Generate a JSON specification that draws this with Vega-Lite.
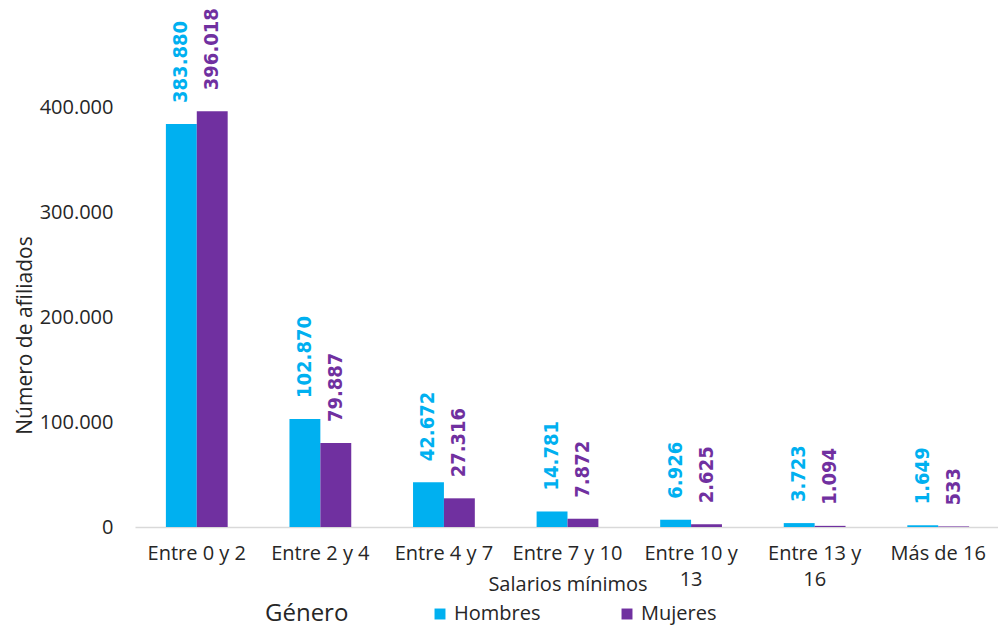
{
  "$schema": "https://vega.github.io/schema/vega-lite/v6.json",
  "width": 865,
  "height": 525,
  "autosize": {"type": "none"},
  "padding": {"left": 135, "top": 2, "right": 0, "bottom": 101},
  "background": "white",
  "config": {
    "locale": {"number": {"decimal": ",", "thousands": ".", "grouping": [3], "currency": ["$", ""]}},
    "view": {"stroke": null},
    "font": "Open Sans"
  },
  "data": {
    "values": [
      {"rango": "Entre 0 y 2", "genero": "Hombres", "valor": 383880},
      {"rango": "Entre 0 y 2", "genero": "Mujeres", "valor": 396018},
      {"rango": "Entre 2 y 4", "genero": "Hombres", "valor": 102870},
      {"rango": "Entre 2 y 4", "genero": "Mujeres", "valor": 79887},
      {"rango": "Entre 4 y 7", "genero": "Hombres", "valor": 42672},
      {"rango": "Entre 4 y 7", "genero": "Mujeres", "valor": 27316},
      {"rango": "Entre 7 y 10", "genero": "Hombres", "valor": 14781},
      {"rango": "Entre 7 y 10", "genero": "Mujeres", "valor": 7872},
      {"rango": "Entre 10 y 13", "genero": "Hombres", "valor": 6926},
      {"rango": "Entre 10 y 13", "genero": "Mujeres", "valor": 2625},
      {"rango": "Entre 13 y 16", "genero": "Hombres", "valor": 3723},
      {"rango": "Entre 13 y 16", "genero": "Mujeres", "valor": 1094},
      {"rango": "Más de 16", "genero": "Hombres", "valor": 1649},
      {"rango": "Más de 16", "genero": "Mujeres", "valor": 533}
    ]
  },
  "encoding": {
    "x": {
      "field": "rango",
      "type": "nominal",
      "sort": null,
      "scale": {"paddingInner": 0.5, "paddingOuter": 0.25},
      "axis": {
        "title": "Salarios mínimos",
        "titleFont": "Open Sans",
        "titleFontSize": 20,
        "titleFontWeight": "normal",
        "titleColor": "#262626",
        "titleBaseline": "middle",
        "titleY": 57,
        "labelAngle": 0,
        "labelFont": "Open Sans",
        "labelFontSize": 20,
        "labelColor": "#262626",
        "labelPadding": 16,
        "labelLineHeight": 26,
        "labelExpr": "length(datum.label) > 12 ? [substring(datum.label, 0, 10), substring(datum.label, 11)] : datum.label",
        "ticks": false,
        "domain": true,
        "domainColor": "#D9D9D9",
        "domainWidth": 1.5
      }
    },
    "xOffset": {"field": "genero", "type": "nominal", "sort": ["Hombres", "Mujeres"]},
    "y": {
      "field": "valor",
      "type": "quantitative",
      "scale": {"domain": [0, 500000], "nice": false},
      "axis": {
        "values": [0, 100000, 200000, 300000, 400000],
        "format": ",.0f",
        "title": "Número de afiliados",
        "titleFont": "Open Sans",
        "titleFontSize": 21,
        "titleFontWeight": "normal",
        "titleColor": "#262626",
        "titleBaseline": "middle",
        "titleX": -110,
        "titleY": 333,
        "labelFont": "Open Sans",
        "labelFontSize": 20,
        "labelColor": "#262626",
        "labelPadding": 22,
        "domain": false,
        "ticks": false,
        "grid": false
      }
    },
    "color": {
      "field": "genero",
      "type": "nominal",
      "sort": ["Hombres", "Mujeres"],
      "scale": {"domain": ["Hombres", "Mujeres"], "range": ["#00B0F0", "#7030A0"]},
      "legend": {
        "title": "Género",
        "orient": "none",
        "legendX": 130,
        "legendY": 602,
        "direction": "horizontal",
        "columns": 2,
        "titleOrient": "left",
        "titleFont": "Open Sans",
        "titleFontSize": 24,
        "titleFontWeight": "normal",
        "titleColor": "#262626",
        "titlePadding": 81,
        "labelFont": "Open Sans",
        "labelFontSize": 20,
        "labelColor": "#262626",
        "symbolType": "square",
        "symbolSize": 120,
        "symbolStrokeWidth": 0,
        "columnPadding": 76
      }
    }
  },
  "layer": [
    {"mark": {"type": "bar"}},
    {
      "mark": {
        "type": "text",
        "angle": -90,
        "align": "left",
        "baseline": "middle",
        "dx": 21,
        "font": "DejaVu Sans Condensed, DejaVu Sans, sans-serif",
        "fontSize": 20,
        "fontWeight": "bold"
      },
      "encoding": {
        "text": {"field": "valor", "type": "quantitative", "format": ",.0f"}
      }
    }
  ]
}
